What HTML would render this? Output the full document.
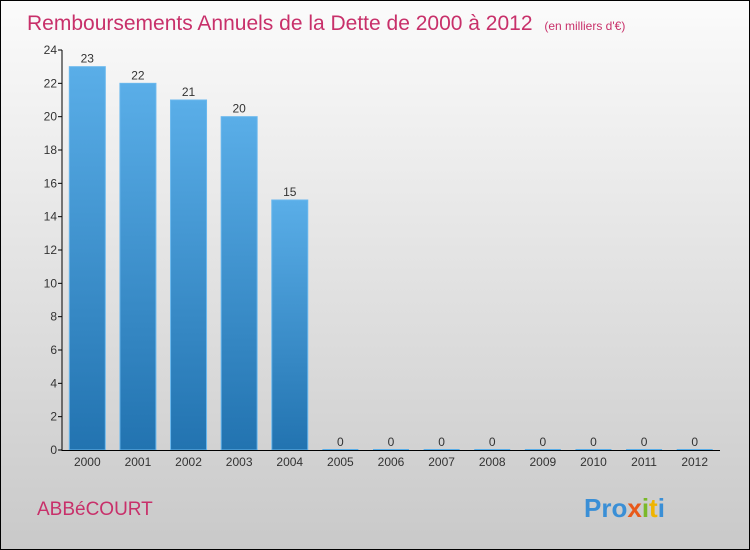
<!DOCTYPE html>
<html><head><meta charset="utf-8">
<style>
html,body{margin:0;padding:0}
body{width:750px;height:550px;overflow:hidden;font-family:"Liberation Sans",sans-serif}
#wrap{position:relative;width:748px;height:548px;border:1px solid #000;background:linear-gradient(#fbfbfb,#c9c9c9)}
</style></head><body>
<div id="wrap">
<svg id="chart" width="748" height="548" style="position:absolute;left:0;top:0">
<defs>
<linearGradient id="bg" x1="0" y1="0" x2="0" y2="1"><stop offset="0" stop-color="#5aaee8"/><stop offset="1" stop-color="#2273b0"/></linearGradient>
</defs>
<text x="26" y="29" font-size="21" fill="#c8306a">Remboursements Annuels de la Dette de 2000 à 2012 <tspan font-size="12" dx="6">(en milliers d'€)</tspan></text>
<text x="36" y="514" font-size="19" fill="#c8306a">ABBéCOURT</text>
<text x="583" y="516" font-size="26" font-weight="bold"><tspan fill="#3a8fd6">Pro</tspan><tspan fill="#e8591a">x</tspan><tspan fill="#7ab929">i</tspan><tspan fill="#f0b400">t</tspan><tspan fill="#3a8fd6">i</tspan></text>
<g id="plot"></g>
</svg>
</div>
<script>
const categories=["2000","2001","2002","2003","2004","2005","2006","2007","2008","2009","2010","2011","2012"];
const values=[23,22,21,20,15,0,0,0,0,0,0,0,0];
const yTicks=[0,2,4,6,8,10,12,14,16,18,20,22,24];
const NS="http://www.w3.org/2000/svg";
const g=document.getElementById("plot");
const x0=61,x1=719,yTop=49,yBot=449,yMax=24;
const step=(x1-x0)/categories.length;
function y(v){return yBot-(v/yMax)*(yBot-yTop);}
function xc(i){return x0+step*(i+0.5);}
function mk(t,a){const e=document.createElementNS(NS,t);for(const k in a)e.setAttribute(k,a[k]);g.appendChild(e);return e;}
yTicks.forEach(v=>{
  const l=mk("line",{x1:x0-4,x2:x0,y1:y(v),y2:y(v),stroke:"#000"});
  
  
  const t=mk("text",{x:x0-5,y:y(v)+4,"text-anchor":"end","font-size":"12",fill:"#333"});
  t.textContent=v;
  
  
});
categories.forEach((c,i)=>{
  const v=values[i],bw=36,bx=xc(i)-bw/2;
  if(v>0){
    const r=mk("rect",{x:bx,y:y(v),width:bw,height:yBot-y(v),fill:"url(#bg)",stroke:"#6ab8ee","stroke-width":"1"});
    
    
  } else {
    const r=mk("line",{x1:bx,x2:bx+bw,y1:yBot-0.5,y2:yBot-0.5,stroke:"#5aaee8"});
    
    
  }
  const vl=mk("text",{x:xc(i),y:y(v)-4,"text-anchor":"middle","font-size":"12",fill:"#333"});
  vl.textContent=v;
  
  
  const xl=mk("text",{x:xc(i),y:yBot+16,"text-anchor":"middle","font-size":"12",fill:"#333"});
  xl.textContent=c;
  
  
});
const ya=mk("line",{x1:x0,x2:x0,y1:yTop,y2:yBot+1,stroke:"#000"});


const xa=mk("line",{x1:x0,x2:x1,y1:yBot+0.5,y2:yBot+0.5,stroke:"#000"});


</script>
</body></html>
